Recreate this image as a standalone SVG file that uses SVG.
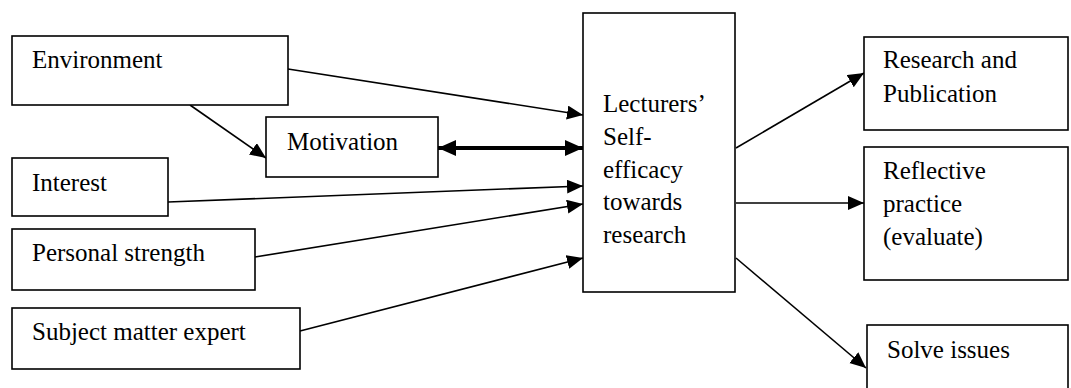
<svg xmlns="http://www.w3.org/2000/svg" width="1071" height="388" viewBox="0 0 1071 388">
<style>
  .box { fill: #fff; stroke: #000; stroke-width: 1.6; }
  .t { font-family: "Liberation Serif", "Times New Roman", serif; font-size: 25px; fill: #000; }
  .c { fill: none; stroke: #000; stroke-width: 1.6; }
  .thick { fill: none; stroke: #000; stroke-width: 4; }
</style>
<defs>
  <marker id="ah" markerUnits="userSpaceOnUse" markerWidth="17" markerHeight="15" refX="16" refY="7" orient="auto">
    <path d="M0,0 L16,7 L0,14 z" fill="#000"/>
  </marker>
  <marker id="ahb" markerUnits="userSpaceOnUse" markerWidth="19" markerHeight="17" refX="18" refY="8" orient="auto-start-reverse">
    <path d="M0,0 L18,8 L0,16 z" fill="#000"/>
  </marker>
</defs>
<rect width="1071" height="388" fill="#fff"/>
<g id="connectors">
  <line class="c" x1="288" y1="69" x2="583" y2="115" marker-end="url(#ah)"/>
  <line class="c" x1="190" y1="105" x2="266" y2="158" marker-end="url(#ah)"/>
  <line class="thick" x1="438" y1="148" x2="583" y2="148" marker-start="url(#ahb)" marker-end="url(#ahb)"/>
  <line class="c" x1="168" y1="202" x2="583" y2="186" marker-end="url(#ah)"/>
  <line class="c" x1="255" y1="257" x2="583" y2="204" marker-end="url(#ah)"/>
  <line class="c" x1="300" y1="331" x2="583" y2="258" marker-end="url(#ah)"/>
  <line class="c" x1="736" y1="148" x2="864" y2="73" marker-end="url(#ah)"/>
  <line class="c" x1="736" y1="203" x2="864" y2="203" marker-end="url(#ah)"/>
  <line class="c" x1="736" y1="258" x2="866" y2="368" marker-end="url(#ah)"/>
</g>
<g id="environment">
  <rect class="box" x="12" y="36" width="276" height="69"/>
  <text class="t" x="32" y="68">Environment</text>
</g>
<g id="motivation">
  <rect class="box" x="266" y="117" width="172" height="60"/>
  <text class="t" x="287" y="150">Motivation</text>
</g>
<g id="interest">
  <rect class="box" x="12" y="158" width="156" height="58"/>
  <text class="t" x="32" y="191">Interest</text>
</g>
<g id="personal-strength">
  <rect class="box" x="12" y="229" width="243" height="61"/>
  <text class="t" x="32" y="261">Personal strength</text>
</g>
<g id="subject-matter-expert">
  <rect class="box" x="12" y="308" width="288" height="61"/>
  <text class="t" x="32" y="340">Subject matter expert</text>
</g>
<g id="self-efficacy">
  <rect class="box" x="583" y="13" width="152" height="279"/>
  <text class="t" x="603"><tspan x="603" y="112">Lecturers’</tspan><tspan x="603" y="145">Self-</tspan><tspan x="603" y="178">efficacy</tspan><tspan x="603" y="210">towards</tspan><tspan x="603" y="243">research</tspan></text>
</g>
<g id="research-publication">
  <rect class="box" x="864" y="37" width="204" height="93"/>
  <text class="t" x="883"><tspan x="883" y="68">Research and</tspan><tspan x="883" y="102">Publication</tspan></text>
</g>
<g id="reflective-practice">
  <rect class="box" x="864" y="147" width="204" height="133"/>
  <text class="t" x="883"><tspan x="883" y="179">Reflective</tspan><tspan x="883" y="212">practice</tspan><tspan x="883" y="245">(evaluate)</tspan></text>
</g>
<g id="solve-issues">
  <rect class="box" x="867" y="325" width="201" height="70"/>
  <text class="t" x="887" y="358">Solve issues</text>
</g>
</svg>
